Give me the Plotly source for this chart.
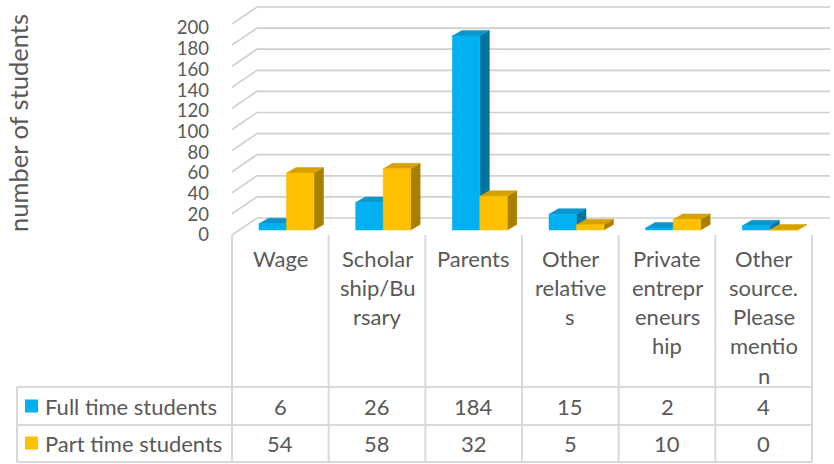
import plotly.graph_objects as go

# ---------------- data ----------------
categories = ["Wage", "Scholarship/Bursary", "Parents", "Other relatives",
              "Private entrepreneurship", "Other source. Please mention"]
category_tick_labels = ["Wage", "Scholar<br>ship/Bu<br>rsary", "Parents",
                        "Other<br>relative<br>s", "Private<br>entrepr<br>eneurs<br>hip",
                        "Other<br>source.<br>Please<br>mentio<br>n"]
full_time = [6, 26, 184, 15, 2, 4]
part_time = [54, 58, 32, 5, 10, 0]
series_names = ["Full time students", "Part time students"]
y_ticks = [0, 20, 40, 60, 80, 100, 120, 140, 160, 180, 200]
y_title = "number of students"

# ---------------- styling / geometry ----------------
W, H = 834, 464
FONT = "Lato"
TXT = "#595959"
GRID = "#d0d0d0"
TABLE_LINE = "#d9d9d9"
FS = 22
TICK_FS = 18.5
TEXT_DY = 0          # compensation for text vertical centering

COLORS = [
    dict(front="#00B0F0", top="#0A96CC", side="#00739E"),
    dict(front="#FFC000", top="#D6A200", side="#A88000"),
]


def px(x):
    return x / W


def py(y):
    return 1 - y / H


# plot area in pixels
X0, X1 = 232, 830
ZERO_PX = 235                     # pixel row of value 0 at the front edge
Y_TOP, Y_BOT = 4, 250
TABLE_R = 812
COL_W = (TABLE_R - X0) / len(categories)
PXU_Y = 1.055                     # pixels per value unit
x_range = [0, (X1 - X0) / COL_W]
y_range = [-(Y_BOT - ZERO_PX) / PXU_Y, (ZERO_PX - Y_TOP) / PXU_Y]

WALL_DX = 25 / COL_W
WALL_DY = 17 / PXU_Y
BAR_OFF = 27 / COL_W
BAR_W = 27.5 / COL_W
BAR_BASE = 5 / PXU_Y
BAR_DX = 9.5 / COL_W
BAR_DY = 5.5 / PXU_Y

# tick label placement (labels at the front-left edge of the floor/wall)
LABEL_PXU = 1.035
tick_pos = [(v * LABEL_PXU) / PXU_Y for v in y_ticks]

fig = go.Figure()

# back wall gridlines (with left-wall diagonal)
gx, gy = [], []
for v in y_ticks:
    gx += [0, WALL_DX, x_range[1], None]
    gy += [v, v + WALL_DY, v + WALL_DY, None]
fig.add_trace(go.Scatter(x=gx, y=gy, mode="lines", line=dict(color=GRID, width=1.7),
                         hoverinfo="skip", showlegend=False))

# 3D columns
for s, vals in enumerate([full_time, part_time]):
    fx, fy, tx, ty, sx, sy = [], [], [], [], [], []
    for i, v in enumerate(vals):
        x0 = i + BAR_OFF + s * BAR_W
        x1 = x0 + BAR_W
        y0 = BAR_BASE
        y1 = BAR_BASE + v
        fx += [x0, x1, x1, x0, x0, None]
        fy += [y0, y0, y1, y1, y0, None]
        tx += [x0, x1, x1 + BAR_DX, x0 + BAR_DX, x0, None]
        ty += [y1, y1, y1 + BAR_DY, y1 + BAR_DY, y1, None]
        sx += [x1, x1 + BAR_DX, x1 + BAR_DX, x1, x1, None]
        sy += [y0, y0 + BAR_DY, y1 + BAR_DY, y1, y0, None]
    c = COLORS[s]
    for xs, ys, col in [(sx, sy, c["side"]), (tx, ty, c["top"]), (fx, fy, c["front"])]:
        fig.add_trace(go.Scatter(x=xs, y=ys, mode="lines", fill="toself", fillcolor=col,
                                 line=dict(color=col, width=0.5), hoverinfo="skip",
                                 showlegend=False, name=series_names[s]))

shapes = []
annotations = []

# data table lines
for k in range(len(categories) + 1):
    xx = X0 + COL_W * k
    shapes.append(dict(type="line", xref="paper", yref="paper", x0=px(xx), x1=px(xx),
                       y0=py(235), y1=py(462), line=dict(color=TABLE_LINE, width=2)))
shapes.append(dict(type="line", xref="paper", yref="paper", x0=px(17), x1=px(17),
                   y0=py(387), y1=py(462), line=dict(color=TABLE_LINE, width=2)))
for yy in [387, 425, 462]:
    shapes.append(dict(type="line", xref="paper", yref="paper", x0=px(17), x1=px(TABLE_R),
                       y0=py(yy), y1=py(yy), line=dict(color=TABLE_LINE, width=2)))

# category header text
for i, lab in enumerate(category_tick_labels):
    cx = X0 + COL_W * (i + 0.5)
    for j, line in enumerate(lab.split("<br>")):
        annotations.append(dict(x=px(cx), y=py(258 + 29.3 * j + TEXT_DY), xref="paper",
                                yref="paper", text=line, showarrow=False, xanchor="center",
                                yanchor="middle", font=dict(family=FONT, size=FS, color=TXT)))

# table rows
row_y = [406, 443]
for s, vals in enumerate([full_time, part_time]):
    yc = row_y[s]
    shapes.append(dict(type="rect", xref="paper", yref="paper", x0=px(25), x1=px(38),
                       y0=py(yc - 6.5), y1=py(yc + 6.5), line=dict(width=0),
                       fillcolor=COLORS[s]["front"]))
    annotations.append(dict(x=px(43), y=py(yc + TEXT_DY), xref="paper", yref="paper",
                            text=series_names[s], showarrow=False, xanchor="left",
                            yanchor="middle", font=dict(family=FONT, size=FS, color=TXT)))
    for i, v in enumerate(vals):
        cx = X0 + COL_W * (i + 0.5)
        annotations.append(dict(x=px(cx), y=py(yc + TEXT_DY), xref="paper", yref="paper",
                                text=str(v), showarrow=False, xanchor="center",
                                yanchor="middle", font=dict(family=FONT, size=FS, color=TXT)))

# y axis title
annotations.append(dict(x=px(18), y=py(123), xref="paper", yref="paper", text=y_title,
                        textangle=-90, showarrow=False, xanchor="center", yanchor="middle",
                        font=dict(family=FONT, size=25.5, color=TXT)))

fig.update_layout(
    width=W, height=H, autosize=False,
    margin=dict(l=0, r=0, t=0, b=0),
    paper_bgcolor="white", plot_bgcolor="rgba(0,0,0,0)",
    showlegend=False,
    shapes=shapes, annotations=annotations,
    xaxis=dict(domain=[px(X0), px(X1)], range=x_range, showgrid=False, zeroline=False,
               showline=False, showticklabels=False, ticks="", fixedrange=True),
    yaxis=dict(domain=[py(Y_BOT), py(Y_TOP)], range=y_range, showgrid=False, zeroline=False,
               showline=False, tickvals=tick_pos, ticktext=[str(v) for v in y_ticks],
               ticks="", ticklabelstandoff=22,
               tickfont=dict(family=FONT, size=TICK_FS, color=TXT), fixedrange=True),
)

fig.write_html("out.html", config={"displayModeBar": False},
               post_script="document.body.style.margin='0px';")
